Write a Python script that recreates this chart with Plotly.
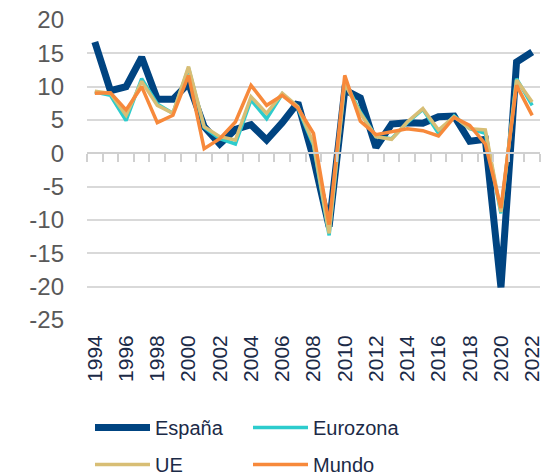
import plotly.graph_objects as go

years = list(range(1994, 2023))
espana = [16.7, 9.4, 10.0, 14.4, 8.1, 8.1, 10.5, 4.0, 1.4, 3.6, 4.3, 2.0, 4.6, 7.6, -0.8, -11.0,
          9.5, 8.3, 0.9, 4.4, 4.6, 4.5, 5.5, 5.6, 1.8, 2.1, -20.1, 13.7, 15.2]
eurozona = [9.2, 8.7, 4.9, 11.2, 7.4, 6.0, 12.8, 3.9, 2.2, 1.4, 8.0, 5.2, 8.9, 6.8, 1.2, -12.3,
            10.8, 6.2, 2.5, 2.2, 4.6, 6.6, 3.0, 5.6, 3.7, 3.0, -9.0, 11.2, 7.2]
ue = [9.3, 9.0, 5.7, 10.8, 7.2, 6.0, 13.0, 4.0, 2.5, 2.0, 8.5, 6.0, 9.0, 7.0, 1.5, -12.0,
      10.5, 6.0, 2.5, 2.1, 4.7, 6.7, 3.5, 5.5, 3.7, 3.5, -8.8, 11.0, 7.7]
mundo = [9.0, 9.1, 6.5, 10.0, 4.6, 5.7, 11.7, 0.7, 2.2, 4.7, 10.2, 7.2, 8.7, 6.8, 3.0, -10.7,
         11.7, 4.8, 2.8, 3.2, 3.7, 3.4, 2.6, 5.4, 4.2, 1.4, -8.2, 10.2, 5.7]
y_ticks = [20, 15, 10, 5, 0, -5, -10, -15, -20, -25]
y_ticktext = [str(v) for v in y_ticks]

series = [
    ("España", espana, "#004481", 7, "legend"),
    ("Eurozona", eurozona, "#2DCCCD", 3.5, "legend2"),
    ("UE", ue, "#D8BE75", 3.5, "legend3"),
    ("Mundo", mundo, "#F7893B", 3.5, "legend4"),
]

fig = go.Figure()
for name, vals, color, w, leg in series:
    fig.add_trace(go.Scatter(x=years, y=vals, name=name, mode="lines", legend=leg,
                             line=dict(color=color, width=w)))

W, H = 547, 473
tick_years = list(range(1994, 2023, 2))


def leg(xpx, ypx):
    return dict(orientation="h", xref="container", x=xpx / W, xanchor="left",
                yref="container", y=1 - ypx / H, yanchor="top",
                font=dict(size=20, color="#1b2a47"), itemwidth=55,
                bgcolor="rgba(0,0,0,0)")


fig.update_layout(
    width=W, height=H,
    margin=dict(l=87, r=7, t=20, b=153, autoexpand=False),
    paper_bgcolor="white", plot_bgcolor="white",
    font=dict(family="Liberation Sans, Arial, sans-serif"),
    xaxis=dict(range=[1993.5, 2022.5], tickmode="array", tickvals=tick_years,
               ticktext=[str(y) for y in tick_years], tickangle=-90, automargin=False,
               showgrid=False, zeroline=False, showline=False, ticks="",
               tickfont=dict(size=21, color="#1b2a47"), ticklabelstandoff=10),
    xaxis2=dict(range=[1993.5, 2022.5], overlaying="x", anchor="free",
                position=25 / 45, side="bottom", showline=True, linecolor="#d0d0d0",
                linewidth=1.5, ticks="outside", ticklen=8, tickcolor="#d0d0d0",
                tickwidth=1.5, tickmode="array",
                tickvals=[y - 0.5 for y in years] + [2022.5],
                showticklabels=False, showgrid=False, zeroline=False),
    yaxis=dict(range=[-25, 20], tickmode="array", tickvals=y_ticks, ticktext=y_ticktext,
               showgrid=True, gridcolor="#d9d9d9",
               gridwidth=1.5, zeroline=False, tickfont=dict(size=24, color="#595959"),
               ticklabelstandoff=22, automargin=False),
    showlegend=True,
    legend=leg(90, 408),
    legend2=leg(248, 408),
    legend3=leg(90, 445),
    legend4=leg(248, 445),
)
fig.add_trace(go.Scatter(x=[1994], y=[None], xaxis="x2", showlegend=False, hoverinfo="skip"))

fig.write_html("out.html", config={"displayModeBar": False},
               post_script="document.body.style.margin='0';")
